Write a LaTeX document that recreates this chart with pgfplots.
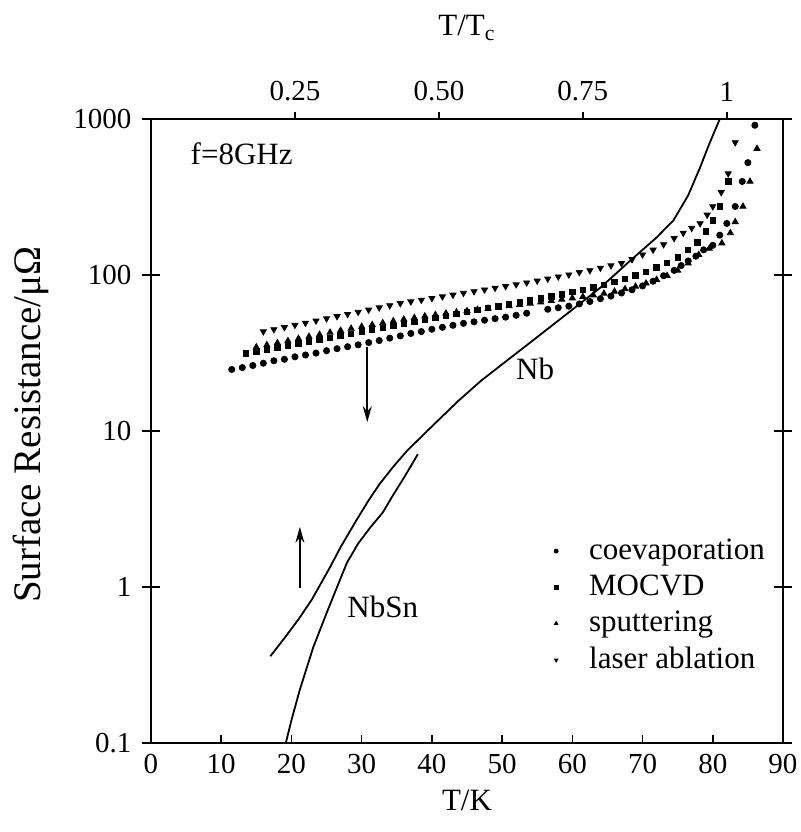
\documentclass[border=0pt]{standalone}
\usepackage{fontspec}
\setmainfont{Liberation Serif}
\usepackage{pgfplots}
\pgfplotsset{compat=1.18}
\usetikzlibrary{arrows.meta}

\newcommand{\fs}{\fontsize{15.5}{18}\selectfont}
\newcommand{\ft}{\fontsize{14.5}{17}\selectfont}

\begin{document}
\fs
\begin{tikzpicture}
\useasboundingbox (-75.5pt,-44.5pt) rectangle (325pt,371.5pt);
% ---- main axis: data, y ticks, frame, legend
\begin{axis}[
  at={(0,0)}, anchor=south west,
  scale only axis, width=316pt, height=312pt,
  xmin=0, xmax=90, ymin=0.1, ymax=1000, ymode=log,
  xtick=\empty,
  ytick={0.1,1,10,100,1000}, yticklabels={0.1,1,10,100,1000},
  yminorticks=false,
  ytick pos=both, yticklabel pos=left,
  tick align=center, major tick length=9pt,
  tick style={line width=0.8pt, black},
  axis line style={line width=0.9pt},
  tick label style={font=\ft},
  /pgf/number format/assume math mode=true,
  ylabel={Surface Resistance/μΩ},
  ylabel style={at={(axis description cs:-0.19,0.51)}, anchor=center, font=\fontsize{19.5}{22}\selectfont},
  legend style={draw=none, fill=none, at={(axis description cs:0.631,0.338)}, anchor=north west,
     font=\fs, row sep=1.5pt, inner sep=1pt},
  legend cell align=left,
  legend image code/.code={\draw[#1, mark size=1.0pt] plot coordinates {(0pt,0pt)}; \path[draw=none, fill=none] (-2pt,0pt) rectangle (14.5pt,0.1pt);},
]
% coevaporation
\addplot[only marks, mark=*, mark size=1.55pt, black] coordinates {
(11.5,24.8)(13,25.5)(14.5,26.3)(16,27.2)(17.5,28.2)(19,28.8)(20.5,29.9)(22,30.7)
(23.5,31.6)(25,32.7)(26.5,33.7)(28,34.7)(29.5,35.7)(31,36.9)(32.5,38.0)(34,39.4)
(35.5,40.7)(37,42.2)(38.5,43.4)(40,44.9)(41.5,46.2)(43,47.6)(44.5,49.0)(46,50.1)
(47.5,51.3)(49,52.5)(50.5,53.7)(52,55.2)(53.5,56.9)(56.5,60.3)(58,61.7)(59.5,63.1)
(61,65.3)(62.5,67.6)(64,70.5)(65.5,73.3)(67,76.7)(68.5,80.4)(70,85.1)(71.5,91.2)
(73,98.9)(74.5,107)(75.5,115)(76.5,123)(77.6,132)(78.7,145)(80,155)(81,180)(82,214)
(83.2,275)(84.2,398)(85,525)(86,912)
};
\addlegendentry{coevaporation}
% MOCVD
\addplot[only marks, mark=square*, mark size=1.35pt, black] coordinates {
(13.5,31.5)(15,32.4)(16.5,33.4)(18,34.4)(19.5,35.4)(21,36.4)(22.5,37.5)(24,38.6)
(25.5,39.7)(27,40.9)(28.5,42.1)(30,43.4)(31.5,44.7)(33,45.9)(34.5,47.3)(36,48.6)
(37.5,50.1)(39,51.6)(40.5,53.1)(42,54.7)(43.5,56.2)(45,57.9)(46.5,59.7)(48,61.4)
(49.5,63.1)(51,65.0)(52.5,67.0)(54,68.9)(55.5,71.0)(57,73.0)(58.5,75.2)(60,77.6)
(61.5,80.4)(63,83.2)(64.5,86.5)(66,90.2)(67.5,94.4)(69,99.3)(70.5,105)(72,112)
(73.5,120)(75,130)(76.5,145)(77.8,162)(79,190)(80,224)(81,275)(82.2,398)
};
\addlegendentry{MOCVD}
% sputtering
\addplot[only marks, mark=triangle*, mark size=1.75pt, black] coordinates {
(15,34.5)(16.5,35.6)(18,36.7)(19.5,37.8)(21,39.1)(22.5,40.3)(24,41.5)(25.5,42.8)
(27,44.1)(28.5,45.4)(30,46.7)(31.5,48.0)(33,49.3)(34.5,50.7)(36,52.0)(37.5,53.2)
(39,54.5)(40.5,55.6)(42,56.8)(43.5,57.8)(45,58.9)(46.5,60.0)(48,61.1)(49.5,62.2)
(51,63.4)(52.5,64.6)(54,65.8)(55.5,67.0)(57,68.4)(58.5,69.7)(60,71.1)(61.5,72.6)
(63,74.3)(64.5,76.2)(66,78.5)(67.5,81.3)(69,84.5)(70.5,88.5)(72,93.3)(73.5,98.9)
(75,107)(76.5,119)(78,135)(79.5,148)(81.3,160)(82.5,186)(83.2,219)(84.3,275)
(85.3,398)(86.3,646)
};
\addlegendentry{sputtering}
% laser ablation
\addplot[only marks, mark=triangle*, mark size=1.75pt, black, every mark/.append style={rotate=180}] coordinates {
(16,43.4)(17.5,44.8)(19,46.2)(20.5,47.8)(22,49.3)(23.5,50.9)(25,52.6)(26.5,54.3)
(28,56.1)(29.5,57.9)(31,59.8)(32.5,61.8)(34,63.8)(35.5,65.8)(37,67.5)(38.5,69.2)
(40,71.0)(41.5,72.8)(43,74.6)(44.5,76.6)(46,78.5)(47.5,80.5)(49,82.6)(50.5,84.7)
(52,86.9)(53.5,89.3)(55,91.8)(56.5,94.6)(58,97.5)(59.5,100.5)(61,104)(62.5,107)
(64,111)(65.5,115)(67,119)(68.5,126)(70,135)(71.5,145)(73,157)(74.5,172)
(75.8,186)(77,200)(78.2,214)(79.2,243)(80,275)(81.2,339)(82.2,447)(83.2,708)
};
\addlegendentry{laser ablation}
% Nb
\addplot[black, line width=0.9pt, no marks, forget plot] coordinates {
(17,0.36)(19,0.47)(21,0.62)(22.9,0.83)(25.5,1.34)(27,1.8)(29.3,2.7)(31,3.6)
(32.6,4.6)(34.5,5.9)(36.5,7.5)(40,10.7)(43.7,15.5)(47,21)(51,29)(55,40)(58,51)
(60,60)(64,83)(68.2,123)(72,174)(74.4,224)(76.5,324)(78.2,490)(79.5,692)(81,1000)
};
% NbSn
\addplot[black, line width=0.9pt, no marks, forget plot] coordinates {
(19.2,0.1)(20,0.14)(21.2,0.22)(23.1,0.41)(25,0.68)(26.5,1.0)(27.9,1.43)(29.5,1.9)
(31.2,2.4)(33,3.0)(34.5,3.9)(36,5.0)(38,7.1)
};
\draw[line width=0.8pt, -{Stealth[length=8pt,width=4.5pt]}] (axis cs:30.8,34.5) -- (axis cs:30.8,11.4);
\draw[line width=0.8pt, -{Stealth[length=8pt,width=4.5pt]}] (axis cs:21.2,0.99) -- (axis cs:21.2,2.43);
\node[font=\fs] at (axis cs:54.7,25) {Nb};
\node[font=\fs] at (axis cs:33,0.745) {NbSn};
\node[font=\fs, anchor=west, inner sep=0pt] at (axis cs:5.6,600) {f=8GHz};
\end{axis}
% ---- bottom x axis
\begin{axis}[
  at={(0,0)}, anchor=south west,
  scale only axis, width=316pt, height=312pt,
  xmin=0, xmax=90, ymin=0.1, ymax=1000, ymode=log,
  hide y axis, axis x line*=bottom,
  axis line style={line width=0.9pt, -},
  xtick={0,10,...,90},
  tick align=inside, major tick length=4pt,
  tick style={line width=0.8pt, black},
  tick label style={font=\ft},
  /pgf/number format/assume math mode=true,
  xlabel={T/K},
  xlabel style={at={(axis description cs:0.5,-0.0913)}, anchor=center, font=\fs},
]
\end{axis}
% ---- top x axis (T/Tc)
\begin{axis}[
  at={(0,0)}, anchor=south west,
  scale only axis, width=316pt, height=312pt,
  xmin=0, xmax=90, ymin=0.1, ymax=1000, ymode=log,
  hide y axis, axis x line*=top,
  axis line style={line width=0.9pt, -},
  xtick={20.5,41,61.5,82}, xticklabels={0.25,0.50,0.75,1},
  xticklabel pos=upper,
  tick align=outside, major tick length=3.5pt,
  tick style={line width=0.8pt, black},
  tick label style={font=\ft},
  /pgf/number format/assume math mode=true,
  xlabel={T/T\textsubscript{c}},
  xlabel style={at={(axis description cs:0.5,1.1458)}, anchor=center, font=\fs},
]
\end{axis}
\end{tikzpicture}
\end{document}
